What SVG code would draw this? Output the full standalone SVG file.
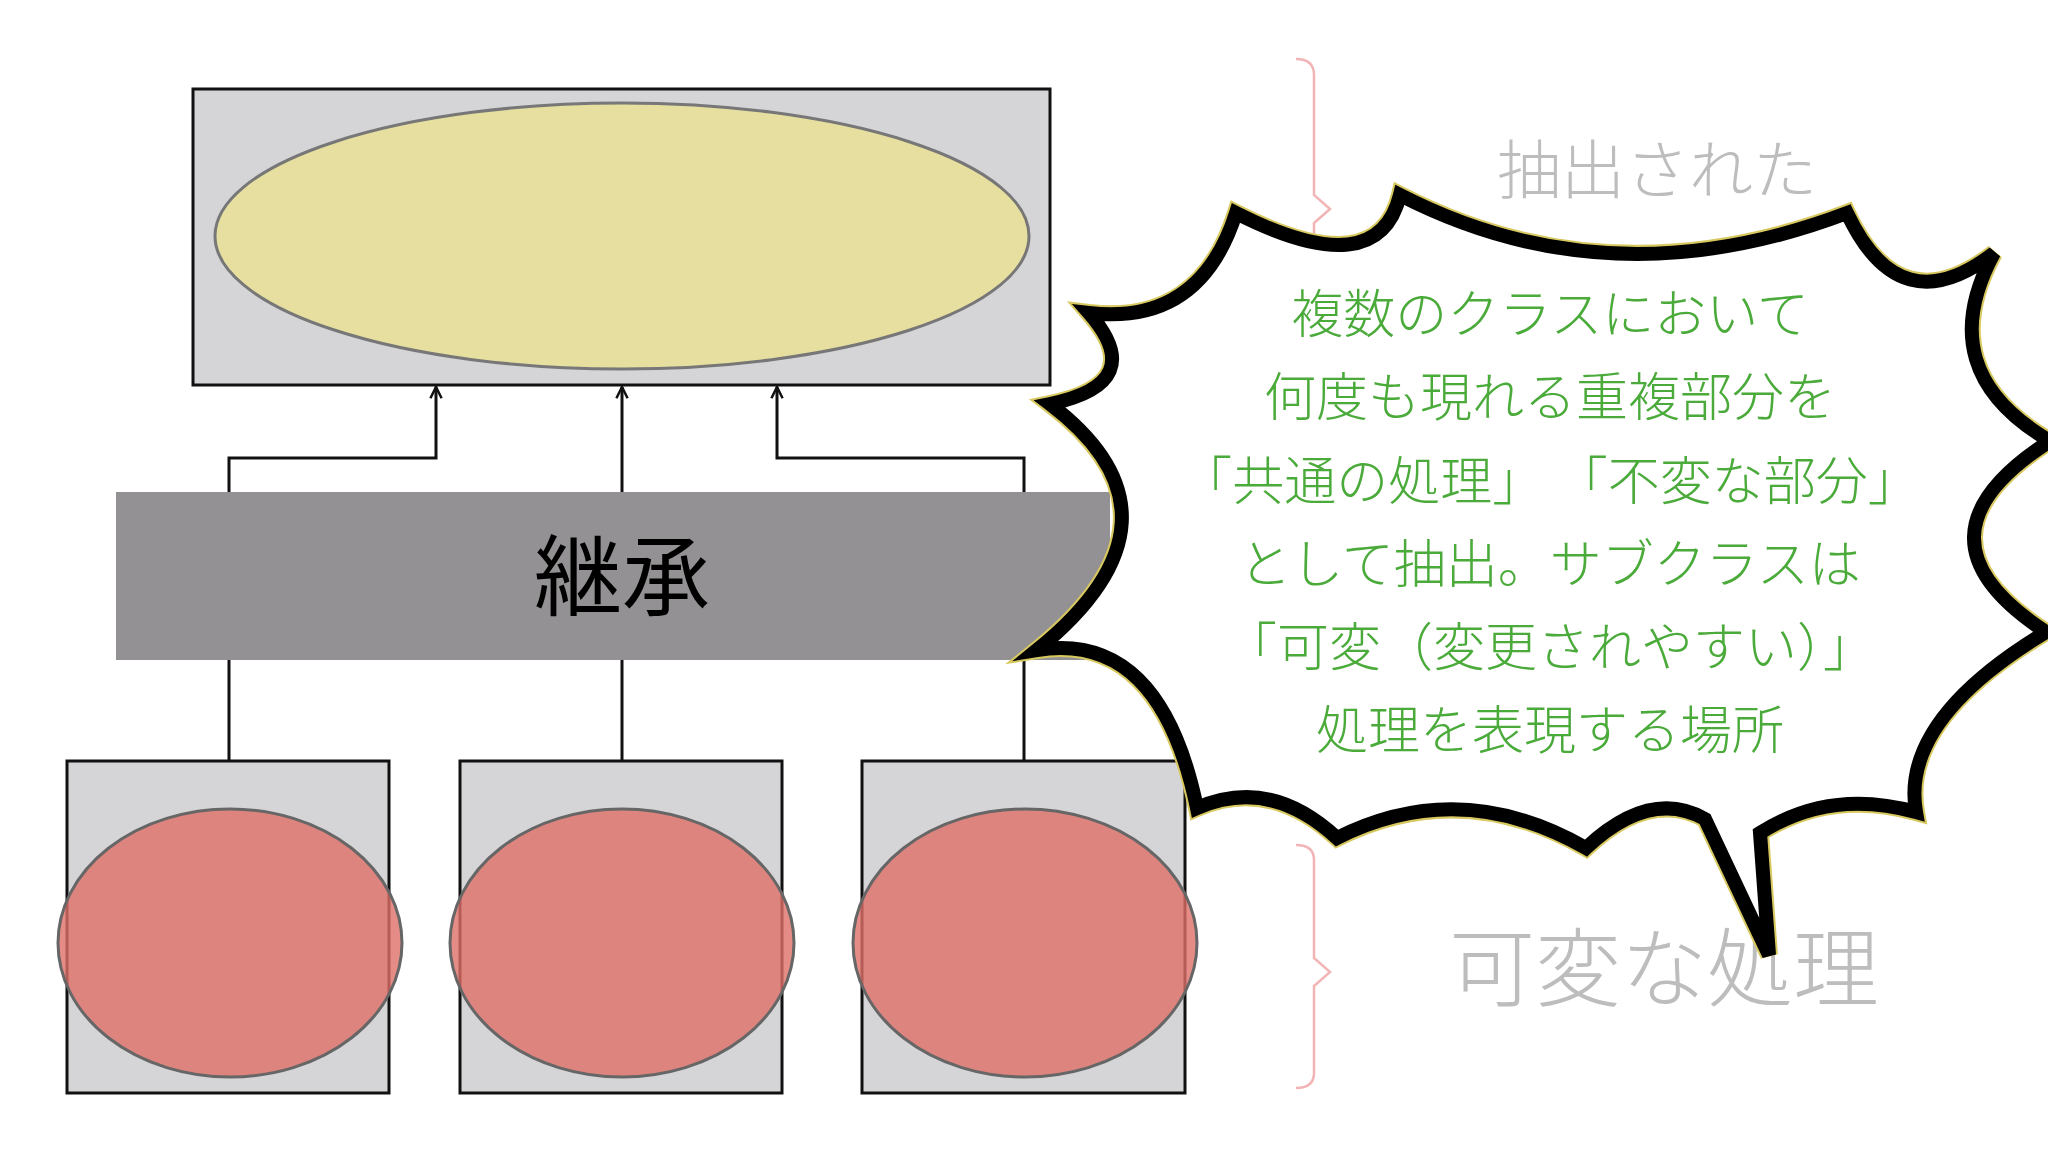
<svg xmlns="http://www.w3.org/2000/svg" width="2048" height="1152" viewBox="0 0 2048 1152">
<style>
.box{fill:#d5d5d7;stroke:#111;stroke-width:3}
.red{fill:#e06f68;fill-opacity:0.8;stroke:#666;stroke-width:3}
.conn{fill:none;stroke:#111;stroke-width:3}
.brace{fill:none;stroke:#f2b4b4;stroke-width:2.5}
.g{font-family:"Noto Sans CJK JP",sans-serif;font-size:52px;fill:#4aaa3a;text-anchor:middle;font-weight:300}
.gray{font-family:"Noto Sans CJK JP",sans-serif;fill:#bdbdbd;font-weight:300}
</style>
<defs>
<marker id="ah" viewBox="0 0 10 10" refX="9" refY="5" markerWidth="14" markerHeight="14" markerUnits="userSpaceOnUse" orient="auto">
<path d="M1,1 L9,5 L1,9" fill="none" stroke="#111" stroke-width="1.8"/>
</marker>
<path id="burst" d="M1236,213 Q1378,285 1400,195 Q1610,303 1847,213 Q1900,326 1994,253 Q1930,371 2050,441 Q1900,537 2046,632 Q1900,720 1916,812 Q1830,788 1760,833 L1769,955 L1705,819 Q1650,788 1586,848 Q1460,776 1337,838 Q1270,776 1197,808 Q1160,630 1037,650 Q1200,518 1050,404 Q1150,383 1089,313 Q1200,326 1236,213 Z"/>
</defs>
<rect width="2048" height="1152" fill="#fff"/>
<g id="braces">
<path class="brace" d="M1296,59 Q1314,59 1314,75 L1314,195 L1330,209 L1314,223 L1314,360"/>
<path class="brace" d="M1296,845 Q1314,845 1314,860 L1314,958 L1330,972 L1314,986 L1314,1073 Q1314,1088 1296,1088"/>
</g>
<text class="gray" x="1657" y="193" font-size="64" text-anchor="middle">抽出された</text>
<text class="gray" x="1664" y="1000" font-size="86" text-anchor="middle">可変な処理</text>
<g id="super">
<rect class="box" x="193" y="89" width="857" height="296"/>
<ellipse cx="622" cy="236" rx="407" ry="133" fill="#e6dfa0" stroke="#777" stroke-width="3"/>
</g>
<g id="connectors">
<path class="conn" d="M229,492 V458 H436 V387" marker-end="url(#ah)"/>
<path class="conn" d="M622,492 V387" marker-end="url(#ah)"/>
<path class="conn" d="M1024,492 V458 H777 V387" marker-end="url(#ah)"/>
<path class="conn" d="M229,660 V761 M622,660 V761 M1024,660 V761"/>
</g>
<g id="band">
<rect x="116" y="492" width="994" height="168" fill="#939194"/>
<text x="622" y="608" font-family="'Noto Sans CJK JP',sans-serif" font-size="88" text-anchor="middle" fill="#000">継承</text>
</g>
<g id="sub1"><rect class="box" x="67" y="761" width="322" height="332"/><ellipse class="red" cx="230" cy="943" rx="172" ry="134"/></g>
<g id="sub2"><rect class="box" x="460" y="761" width="322" height="332"/><ellipse class="red" cx="622" cy="943" rx="172" ry="134"/></g>
<g id="sub3"><rect class="box" x="862" y="761" width="323" height="332"/><ellipse class="red" cx="1025" cy="943" rx="172" ry="134"/></g>
<g id="callout">
<use href="#burst" fill="#fff" stroke="#d8c860" stroke-width="18"/>
<use href="#burst" fill="#fff" stroke="#000" stroke-width="14"/>
<text class="g" x="1550" y="333">複数のクラスにおいて</text>
<text class="g" x="1550" y="416">何度も現れる重複部分を</text>
<text class="g" x="1550" y="500">「共通の処理」 「不変な部分」</text>
<text class="g" x="1550" y="583">として抽出。サブクラスは</text>
<text class="g" x="1550" y="666">「可変（変更されやすい）」</text>
<text class="g" x="1550" y="749">処理を表現する場所</text>
</g>
</svg>
